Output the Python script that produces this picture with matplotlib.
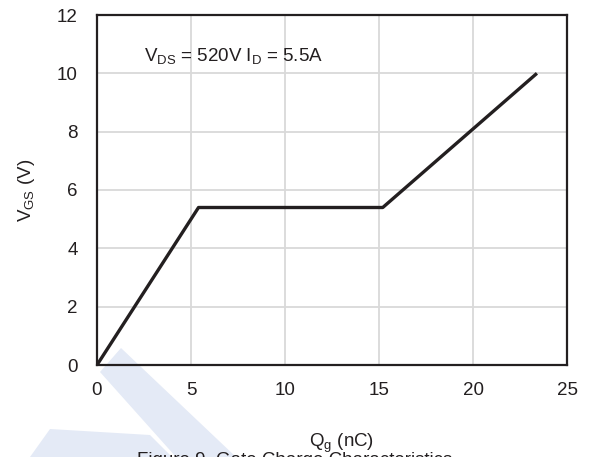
import numpy as np
import matplotlib
matplotlib.use("Agg")
import matplotlib.pyplot as plt
from matplotlib.patches import Polygon

plt.rcParams['font.family'] = ['Liberation Sans', 'DejaVu Sans']
plt.rcParams['mathtext.default'] = 'regular'

# gate charge curve (Qg in nC, Vgs in V)
qg = [0, 5.4, 15.2, 23.4]
vgs = [0, 5.4, 5.4, 10.0]

x_ticks = [0, 5, 10, 15, 20, 25]
y_ticks = [0, 2, 4, 6, 8, 10, 12]

W, H = 589, 457
fs = 13.5
ink = "#231f20"
fig = plt.figure(figsize=(W / 100, H / 100), dpi=100)
ax = fig.add_axes([97 / W, 1 - 365 / H, 470 / W, 350 / H])
ax.patch.set_alpha(0)

# faded logo watermark behind the plot (figure pixels)
wm = "#e4eaf6"
band = [(100, 372), (121, 348), (236, 457), (176, 457)]
wing = [(30, 457), (50, 429), (150, 435), (172, 457)]
for shape in (band, wing):
    pts = [(x / W, 1 - y / H) for x, y in shape]
    fig.patches.append(Polygon(pts, closed=True, transform=fig.transFigure,
                               facecolor=wm, edgecolor="none", zorder=-5))

ax.plot(qg, vgs, color=ink, lw=2.4, solid_capstyle="butt", zorder=3)

ax.set_xlim(0, 25)
ax.set_ylim(0, 12)
ax.set_xticks(x_ticks)
ax.set_yticks(y_ticks)
ax.grid(True, color="#d9d9d9", lw=1.3)
ax.set_axisbelow(True)
ax.tick_params(length=0, labelsize=fs, colors=ink)
ax.tick_params(axis="x", pad=12)
ax.tick_params(axis="y", pad=14)
for s in ax.spines.values():
    s.set_color(ink)
    s.set_linewidth(1.6)

ax.set_ylabel("V$_{GS}$ (V)", fontsize=fs, color=ink)
ax.yaxis.set_label_coords(-0.128, 0.5)
ax.set_xlabel("Q$_{g}$ (nC)", fontsize=fs, color=ink)
ax.xaxis.set_label_coords(0.52, -0.19)

ax.text(2.5, 10.6, "V$_{DS}$ = 520V I$_{D}$ = 5.5A", fontsize=fs,
        color=ink, va="center", ha="left")

fig.text(0.5, 1 - 452 / H, "Figure 9. Gate Charge Characteristics",
         fontsize=fs, color=ink, ha="center", va="top")

fig.savefig("out.png", dpi=100)
